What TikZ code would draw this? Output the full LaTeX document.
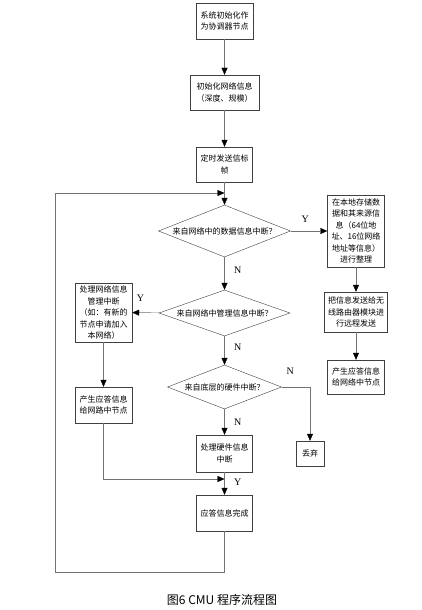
\documentclass[tikz,border=0pt]{standalone}
\usepackage{fontspec}
\setmainfont{Noto Sans CJK SC}
\newfontfamily\ynfont{Liberation Serif}
\usetikzlibrary{arrows.meta,shapes.geometric}

\begin{document}
\begin{tikzpicture}[x=1pt,y=-1pt,
  box/.style={draw=black!75,align=center,inner sep=0pt,font=\fontsize{8}{11.5}\selectfont},
  dec/.style={draw=black!75,diamond,inner sep=0pt,font=\fontsize{8}{10}\selectfont},
  lbl/.style={font=\ynfont\fontsize{10}{10}\selectfont},
  flow/.style={draw=black!55,-{Triangle[length=7pt,width=6pt,color=black]}},
  line/.style={draw=black!55}]
  \fill[white] (0,0) rectangle (422,610);
  \useasboundingbox (0,0) rectangle (422,610);

  %% main column
  \node[box,minimum width=57,minimum height=36] at (224.5,21) (INIT)
	{系统初始化作\\为协调器节点};
  \node[box,minimum width=69,minimum height=35] at (224.5,92.5) (NET)
	{初始化网络信息\\（深度、规模）};
  \node[box,minimum width=56,minimum height=35] at (224.5,164.5) (BCN)
	{定时发送信标\\帧};
  \node[dec,aspect=2.54,minimum width=132,minimum height=52] at (224.5,231) (D1)
	{来自网络中的数据信息中断？};
  \node[dec,aspect=2.85,minimum width=131,minimum height=46] at (224.5,313) (D2)
	{来自网络中管理信息中断？};
  \node[dec,aspect=2.6,minimum width=114,minimum height=44] at (224.5,387) (D3)
	{来自底层的硬件中断？};
  \node[box,minimum width=56,minimum height=37] at (224.5,453.5) (HW)
	{处理硬件信息\\中断};
  \node[box,minimum width=56,minimum height=36] at (224.5,513) (DONE)
	{应答信息完成};

  %% right column
  \node[box,minimum width=57,minimum height=72] at (356,231) (STORE)
	{在本地存储数\\据和其来源信\\息（64位地\\址、16位网络\\地址等信息）\\进行整理};
  \node[box,minimum width=63,minimum height=40] at (356,312) (SEND)
	{把信息发送给无\\线路由器模块进\\行远程发送};
  \node[box,minimum width=57,minimum height=34] at (356,377) (ACKR)
	{产生应答信息\\给网络中节点};
  \node[box,minimum width=28,minimum height=25] at (310,453.5) (DROP)
	{丢弃};

  %% left column
  \node[box,minimum width=57,minimum height=59] at (103.5,312.5) (MGMT)
	{处理网络信息\\管理中断\\（如：有新的\\节点申请加入\\本网络）};
  \node[box,minimum width=57,minimum height=36] at (103.5,405) (ACKL)
	{产生应答信息\\给网路中节点};

  \coordinate (LOOP) at (224.5,193);
  \coordinate (JOIN) at (224.5,479);

	\draw[flow] (INIT) -- (NET);
	\draw[flow] (NET) -- (BCN);
	\draw[flow] (BCN) -- (D1);
	\draw[flow] (D1) -- (STORE) node[lbl,pos=0.4,above=5pt]{Y};
	\draw[flow] (STORE) -- (SEND);
	\draw[flow] (SEND) -- (ACKR);
	\draw[flow] (D1) -- (D2) node[lbl,pos=0.4,right=6pt]{N};
	\draw[flow] (D2) -- (MGMT) node[lbl,pos=0.7,above=8pt]{Y};
	\draw[flow] (MGMT) -- (ACKL);
	\draw[flow] (D2) -- (D3) node[lbl,pos=0.4,right=6pt]{N};
	\draw[flow] (D3.east) -| (DROP) node[lbl,pos=0.15,above=9pt]{N};
	\draw[flow] (D3) -- (HW) node[lbl,pos=0.5,right=6pt]{N};
	\draw[flow] (HW) -- (DONE) node[lbl,pos=0.45,right=6pt]{Y};
	\draw[flow] (ACKL) |- (JOIN);
	\draw[flow] (DONE.south) -- ++(0,41) -| (55,193) -- (LOOP);

  \node[font=\fontsize{12}{14}\selectfont] at (222,600) (CAP) {图6 CMU 程序流程图};
\end{tikzpicture}
\end{document}
